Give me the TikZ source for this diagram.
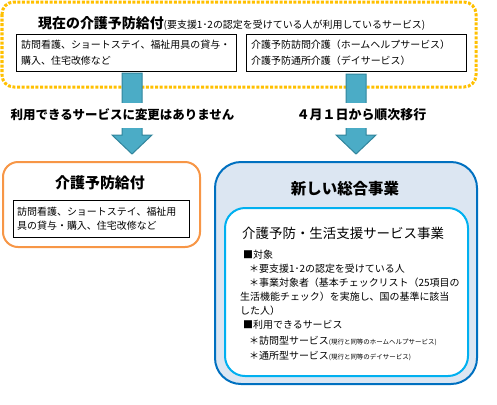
\documentclass[tikz,border=0pt]{standalone}
\usepackage{fontspec}
\setmainfont{Noto Sans CJK JP}
\usetikzlibrary{calc}
\definecolor{dotc}{HTML}{FFC000}
\definecolor{arrf}{HTML}{4BACC6}
\definecolor{arrd}{HTML}{31859C}
\definecolor{orng}{HTML}{F79646}
\definecolor{bluo}{HTML}{0070C0}
\definecolor{blufill}{HTML}{DCE6F2}
\definecolor{blui}{HTML}{00B0F0}
\newcommand\jfs[1]{\fontsize{#1}{#1}\selectfont}
\newcommand\jfsl[2]{\fontsize{#1}{#2}\selectfont}
\tikzset{
  plainbox/.style={draw=black, line width=0.8bp, fill=white},
  txt/.style={inner sep=0pt, anchor=west, font=\jfs{10}},
  blockarrow/.style={fill=arrf, draw=arrd, line width=1bp, line join=miter},
  arrlabel/.style={fill=white, inner sep=1bp, minimum height=25bp, font=\bfseries\jfs{12.5}},
}
\begin{document}
\begin{tikzpicture}[x=1bp,y=-1bp]
\useasboundingbox (0,0) rectangle (497,404);
% top dotted box
\draw[draw=dotc, line width=3bp, dash pattern=on 3bp off 1.6bp, rounded corners=12bp, fill=white] (2,2) rectangle (476,87);
\node[inner sep=0pt, anchor=base west] (toptitle) at (38,28) {{\bfseries\jfs{14}現在の介護予防給付}{\jfs{10}(要支援1･2の認定を受けている人が利用しているサービス)}};
\draw[plainbox] (16,34) rectangle (236,71);
\node[txt, align=left, font=\jfsl{10}{16}] (tl) at (21,52.5) {訪問看護、ショートステイ、福祉用具の貸与・\\購入、住宅改修など};
\draw[plainbox] (246,34) rectangle (466,71);
\node[txt, align=left, font=\jfsl{10}{16}] (tr) at (251,52.5) {介護予防訪問介護（ホームヘルプサービス）\\介護予防通所介護（デイサービス）};
% arrows
\coordinate (a1s) at (132,73);
\coordinate (a1t) at (132,154);
\coordinate (a2s) at (356,74);
\coordinate (a2t) at (356,154);
\foreach \s/\t in {a1s/a1t, a2s/a2t}{
  \draw[blockarrow] ($(\s)+(-10,0)$) -- ($(\s)+(10,0)$) -- ($(\t)+(10,-19)$) -- ($(\t)+(20,-19)$) -- (\t) -- ($(\t)+(-20,-19)$) -- ($(\t)+(-10,-19)$) -- cycle;
}
\node[arrlabel] (lab1) at (122.5,115) {利用できるサービスに変更はありません};
\node[arrlabel, font=\bfseries\jfs{13}] (lab2) at (361.5,115) {４月１日から順次移行};
% orange box
\draw[draw=orng, line width=2bp, rounded corners=15bp, fill=white] (3,162) rectangle (200,247);
\node[inner sep=0pt, font=\bfseries\jfs{15}] (otitle) at (100,183) {介護予防給付};
\draw[plainbox] (13,200) rectangle (189,237);
\node[txt, align=left, font=\jfsl{10}{14}] (ol) at (17,219) {訪問看護、ショートステイ、福祉用\\具の貸与・購入、住宅改修など};
% blue box
\draw[draw=bluo, line width=2bp, rounded corners=26bp, fill=blufill] (215,162) rectangle (477,384);
\node[inner sep=0pt, font=\bfseries\jfs{15.5}] (btitle) at (345,189) {新しい総合事業};
\draw[draw=blui, line width=2bp, rounded corners=20bp, fill=white] (225,208) rectangle (468,376);
\node[txt, font=\jfs{13.5}] (itit) at (242,233) {介護予防・生活支援サービス事業};
\node[txt] (l1) at (243,255) {■対象};
\node[txt] (l2) at (249,269) {＊要支援1･2の認定を受けている人};
\node[txt] (l3) at (249,283) {＊事業対象者（基本チェックリスト（25項目の};
\node[txt] (l4) at (240,297) {生活機能チェック）を実施し、国の基準に該当};
\node[txt] (l5) at (240,311) {した人）};
\node[txt] (l6) at (243,325) {■利用できるサービス};
\node[txt] (l7) at (249,341) {＊訪問型サービス{\jfs{6.5}(現行と同等のホームヘルプサービス)}};
\node[txt] (l8) at (249,356) {＊通所型サービス{\jfs{6.5}(現行と同等のデイサービス)}};
\end{tikzpicture}
\end{document}
